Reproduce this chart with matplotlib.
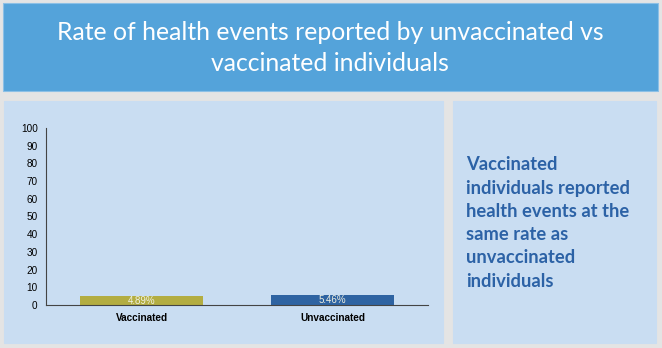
import matplotlib.pyplot as plt
from matplotlib.patches import Rectangle

categories = ["Vaccinated", "Unvaccinated"]
rates = [4.89, 5.46]
bar_labels = ["4.89%", "5.46%"]
bar_colors = ["#b3ad42", "#2e63a2"]
yticks = [0, 10, 20, 30, 40, 50, 60, 70, 80, 90, 100]

title = "Rate of health events reported by unvaccinated vs\nvaccinated individuals"
note = ("Vaccinated\nindividuals reported\nhealth events at the\n"
        "same rate as\nunvaccinated\nindividuals")

W, H = 662, 348
fig = plt.figure(figsize=(W / 100, H / 100), dpi=100)
fig.patch.set_facecolor("#e4e4e4")

def box(x0, y0, x1, y1, color, edge=None):
    # pixel coords from top-left
    r = Rectangle((x0 / W, 1 - y1 / H), (x1 - x0) / W, (y1 - y0) / H,
                  transform=fig.transFigure, facecolor=color,
                  edgecolor=edge if edge else color, linewidth=0.8, zorder=-10)
    fig.patches.append(r)

box(3, 3, 658, 91, "#54a3da", "#8cc0e6")
box(4, 101, 443, 343, "#c9ddf2")
box(453, 101, 656, 343, "#c9ddf2")

fig.text(330 / W, 1 - 48 / H, title, ha="center", va="center",
         color="white", fontsize=17.8, family="Lato", fontweight="normal",
         linespacing=1.45, zorder=5)
fig.text(466 / W, 1 - 223 / H, note, ha="left", va="center",
         color="#2c62a6", fontsize=13.2, family="Lato", fontweight="bold",
         linespacing=1.45, zorder=5)

ax = fig.add_axes([46 / W, 1 - 305 / H, (428 - 46) / W, (305 - 128) / H])
ax.set_facecolor("none")
ax.set_zorder(2)
x = list(range(len(categories)))
ax.bar(x, rates, width=0.64, color=bar_colors)
for xi, v, lab in zip(x, rates, bar_labels):
    ax.text(xi, v / 2, lab, ha="center", va="center", color="#f0f0e0",
            fontsize=7, family="Liberation Sans")
ax.set_xlim(-0.5, 1.5)
ax.set_ylim(0, 100)
ax.set_yticks(yticks)
ax.set_xticks(x)
ax.set_xticklabels(categories, fontweight="bold", fontsize=7.2,
                   family="Liberation Sans")
for lab in ax.get_yticklabels():
    lab.set_family("Liberation Sans")
ax.tick_params(axis="y", length=0, labelsize=7.2, pad=6)
ax.tick_params(axis="x", length=0, pad=6)
for s in ["top", "right"]:
    ax.spines[s].set_visible(False)
for s in ["left", "bottom"]:
    ax.spines[s].set_color("#444444")
    ax.spines[s].set_linewidth(0.8)

fig.savefig("out.png", dpi=100, facecolor=fig.get_facecolor())
